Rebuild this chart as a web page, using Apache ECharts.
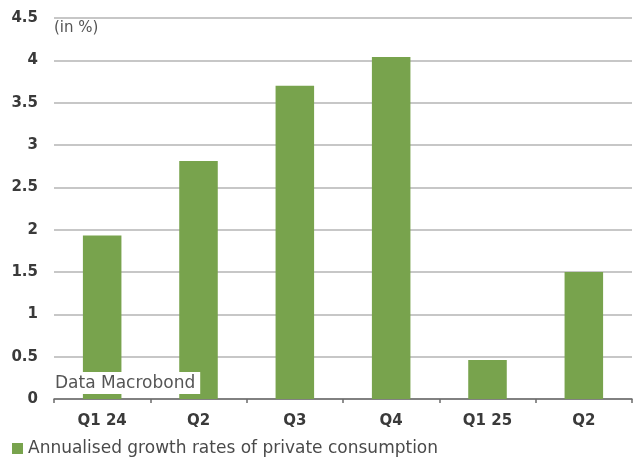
<!DOCTYPE html>
<html><head><meta charset="utf-8">
<script src="https://cdn.jsdelivr.net/npm/echarts@6/dist/echarts.min.js"></script>
<style>html,body{margin:0;padding:0;background:#fff}#c{width:638px;height:462px}</style>
</head><body><div id="c"></div>
<script>
var categories = ["Q1 24", "Q2", "Q3", "Q4", "Q1 25", "Q2"];
var growth = [1.93, 2.81, 3.70, 4.04, 0.46, 1.50];
var seriesName = "Annualised growth rates of private consumption";
var unitLabel = "(in %)";
var sourceLabel = "Data Macrobond";

var chart = echarts.init(document.getElementById('c'));
var bold = "'DejaVu Sans', sans-serif";
var light = "'DejaVu Sans', sans-serif";
chart.setOption({
  animation: false,
  grid: {left: 54, right: 6, top: 18, bottom: 63},
  xAxis: {
    type: 'category', data: categories,
    axisLine: {lineStyle: {color: '#6b6b6b', width: 1.5}},
    axisTick: {show: true, length: 4, lineStyle: {color: '#6b6b6b', width: 1.5}},
    axisLabel: {color: '#3a3a3a', fontWeight: 'bold', fontSize: 15, fontFamily: bold, margin: 15}
  },
  yAxis: {
    type: 'value', min: 0, max: 4.5, interval: 0.5,
    axisLine: {show: false}, axisTick: {show: false},
    splitLine: {lineStyle: {color: '#b5b5b5', width: 1.5}},
    axisLabel: {color: '#3a3a3a', fontWeight: 'bold', fontSize: 15, fontFamily: bold, margin: 16}
  },
  legend: {
    left: 12, top: 440, itemWidth: 11, itemHeight: 11, icon: 'rect', itemGap: 5, padding: 0,
    textStyle: {color: '#4a4a4a', fontSize: 17, fontFamily: light}
  },
  series: [{
    name: seriesName, type: 'bar', data: growth, barWidth: '40%',
    itemStyle: {color: '#78a34d'}, z: 2
  }],
  graphic: [
    {type: 'text', left: 54, top: 21, z: 10,
     style: {text: unitLabel, fill: '#555', font: '15px ' + light}},
    {type: 'text', left: 54, top: 372, z: 10,
     style: {text: sourceLabel, fill: '#555', font: '17px ' + light,
             backgroundColor: '#fff', padding: [3, 5, 2, 1]}}
  ]
});
</script></body></html>
